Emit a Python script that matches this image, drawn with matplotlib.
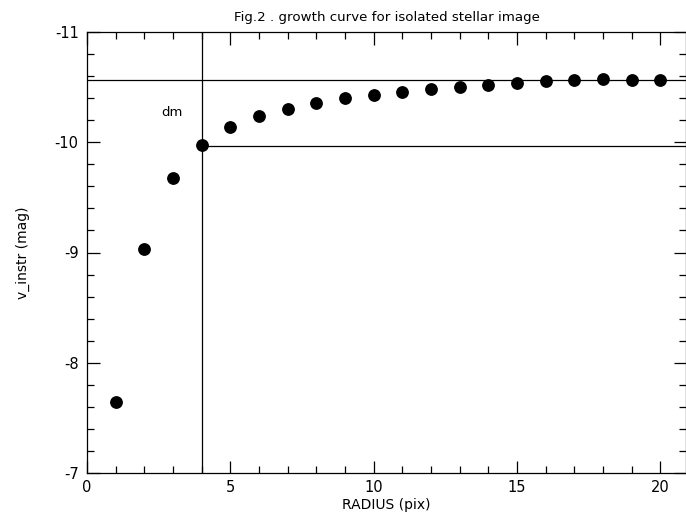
import matplotlib
matplotlib.use("Agg")
import matplotlib.pyplot as plt
from matplotlib.ticker import MultipleLocator

# growth curve data
radius = [1, 2, 3, 4, 5, 6, 7, 8, 9, 10, 11, 12, 13, 14, 15, 16, 17, 18, 19, 20]
v_instr = [-7.64, -9.03, -9.675, -9.975, -10.14, -10.24, -10.30, -10.356, -10.40, -10.43,
           -10.456, -10.48, -10.50, -10.52, -10.54, -10.558, -10.565, -10.574, -10.565, -10.565]
ref_radius = 4
ref_mag = -9.966
total_mag = -10.565

plt.rcParams['font.family'] = ['DejaVu Sans']
plt.rcParams['font.size'] = 10

fig = plt.figure(figsize=(6.86, 5.14), dpi=100)
ax = fig.add_axes([87 / 686, 41 / 514, 599 / 686, 441 / 514])

ax.plot(radius, v_instr, 'o', color='black', markersize=8.2, zorder=3)

ax.axvline(ref_radius, color='black', lw=0.9)
ax.axhline(total_mag, color='black', lw=0.9)
ax.plot([ref_radius, 21], [ref_mag, ref_mag], color='black', lw=0.9)
ax.text(2.95, -10.27, 'dm', ha='center', va='center', fontsize=9.5)

ax.set_xlim(0, 20.9)
ax.set_ylim(-7, -11)
ax.xaxis.set_major_locator(MultipleLocator(5))
ax.xaxis.set_minor_locator(MultipleLocator(1))
ax.yaxis.set_major_locator(MultipleLocator(1))
ax.yaxis.set_minor_locator(MultipleLocator(0.2))
ax.tick_params(which='both', direction='in', top=True, right=True, width=0.9,
               labelsize=10.5)
ax.tick_params(axis='x', pad=5)
ax.tick_params(axis='y', pad=6)
ax.tick_params(which='major', length=9)
ax.tick_params(which='minor', length=5)
ax.yaxis.set_major_formatter(plt.FuncFormatter(lambda v, p: '%d' % v))
for s in ax.spines.values():
    s.set_linewidth(0.9)

ax.set_title('Fig.2 . growth curve for isolated stellar image', pad=8, fontsize=9.6)
ax.set_xlabel('RADIUS (pix)', labelpad=2)
ax.set_ylabel('v_instr (mag)', labelpad=18)

fig.savefig('out.png', dpi=100)
